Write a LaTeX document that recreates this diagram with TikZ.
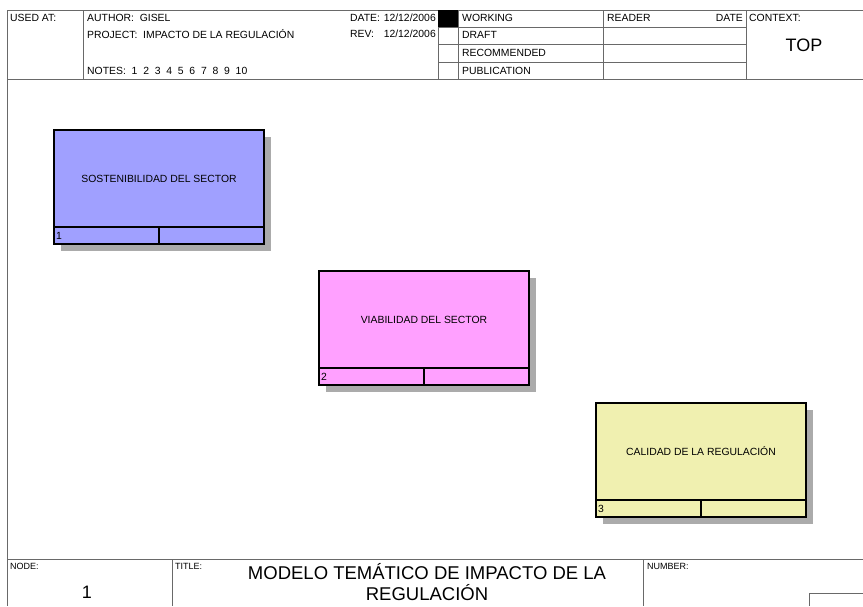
\documentclass[tikz,border=0pt]{standalone}
\usepackage{fontspec}
\setmainfont{Liberation Sans}
\usetikzlibrary{positioning,backgrounds}

\definecolor{FrameGray}{RGB}{105,105,105}
\definecolor{SectorBlue}{RGB}{160,160,255}
\definecolor{SectorPink}{RGB}{255,160,255}
\definecolor{RuleYellow}{RGB}{240,240,176}

\begin{document}
\begin{tikzpicture}[x=1pt, y=-1pt,
	rule/.style={draw=FrameGray, line width=0.9pt},
	hdr/.style={font=\fontsize{10.4}{12}\selectfont, inner sep=0pt, anchor=west},
	tag/.style={font=\fontsize{9}{10}\selectfont, inner sep=0pt, anchor=north west},
	big/.style={font=\fontsize{18}{21}\selectfont, inner sep=0pt},
	act/.style={draw=black, line width=1.3pt, outer sep=0pt, minimum width=210pt, minimum height=97pt, inner sep=0pt, font=\fontsize{10.4}{12}\selectfont},
	cell/.style={draw=black, line width=1.3pt, outer sep=0pt, minimum width=105pt, minimum height=17pt, inner sep=0pt, anchor=north west},
	shade/.style={fill=black!33}]
	\useasboundingbox (0,0) rectangle (863,606);

	% form frame
	\draw[rule] (863,10) -- (7,10) -- (7,606);
	\draw[rule] (7,79) -- (863,79);
	\draw[rule] (7,559) -- (863,559);
	\foreach \x in {83,438,458,603,746} \draw[rule] (\x,10) -- (\x,79);
	\foreach \y in {27,44,62} \draw[rule] (438,\y) -- (746,\y);
	\draw[rule] (172,559) -- (172,606);
	\draw[rule] (643,559) -- (643,606);
	\draw[rule] (863,593) -- (809,593) -- (809,606);
	\fill[black] (438,10) rectangle (458,27);

	% header texts
	\node[hdr] (usedat) at (10,18) {USED AT:};
	\node[hdr] (author) at (87,18) {AUTHOR:\ \ GISEL};
	\node[hdr] (project) at (87,34) {PROJECT:\ \ IMPACTO DE LA REGULACIÓN};
	\node[hdr] (notes) at (87,71) {NOTES:\ \ 1\ \ 2\ \ 3\ \ 4\ \ 5\ \ 6\ \ 7\ \ 8\ \ 9\ \ 10};
	\node[hdr] (datelbl) at (350,18) {DATE:};
	\node[hdr, anchor=east] (date) at (436,18) {12/12/2006};
	\node[hdr] (revlbl) at (350,34) {REV:};
	\node[hdr, anchor=east] (rev) at (436,34) {12/12/2006};
	\foreach \s/\y in {WORKING/18, DRAFT/35, RECOMMENDED/53, PUBLICATION/71}
		\node[hdr] (\s) at (462,\y) {\s};
	\node[hdr] (reader) at (607,18) {READER};
	\node[hdr, anchor=east] (readerdate) at (743,18) {DATE};
	\node[hdr] (context) at (749,18) {CONTEXT:};
	\node[big] (top) at (804,45) {TOP};

	% footer texts
	\node[tag] (nodelbl) at (10,563) {NODE:};
	\node[tag] (titlelbl) at (175,563) {TITLE:};
	\node[tag] (numberlbl) at (647,563) {NUMBER:};
	\node[big] (nodenum) at (87,592) {1};
	\node[big, font=\fontsize{18.5}{21}\selectfont, align=center] (title) at (427,582) {MODELO TEMÁTICO DE IMPACTO DE LA\\REGULACIÓN};

	% activity boxes
	\node[act, fill=SectorBlue] (sost) at (159,178.5) {SOSTENIBILIDAD DEL SECTOR};
	\node[cell, fill=SectorBlue] (sost-num) at (sost.south west) {};
	\node[cell, fill=SectorBlue, right=0pt of sost-num] (sost-ref) {};
	\node[hdr, inner sep=2pt] (sost-id) at (sost-num.west) {1};

	\node[act, fill=SectorPink] (viab) at (424,319.5) {VIABILIDAD DEL SECTOR};
	\node[cell, fill=SectorPink] (viab-num) at (viab.south west) {};
	\node[cell, fill=SectorPink, right=0pt of viab-num] (viab-ref) {};
	\node[hdr, inner sep=2pt] (viab-id) at (viab-num.west) {2};

	\node[act, fill=RuleYellow] (cal) at (701,451.5) {CALIDAD DE LA REGULACIÓN};
	\node[cell, fill=RuleYellow] (cal-num) at (cal.south west) {};
	\node[cell, fill=RuleYellow, right=0pt of cal-num] (cal-ref) {};
	\node[hdr, inner sep=2pt] (cal-id) at (cal-num.west) {3};

	% shadows
	\begin{scope}[on background layer]
		\foreach \b in {sost,viab,cal}
			\fill[shade] ([shift={(7,7)}]\b.north west) rectangle ([shift={(7,7)}]\b-ref.south east);
	\end{scope}
\end{tikzpicture}
\end{document}
